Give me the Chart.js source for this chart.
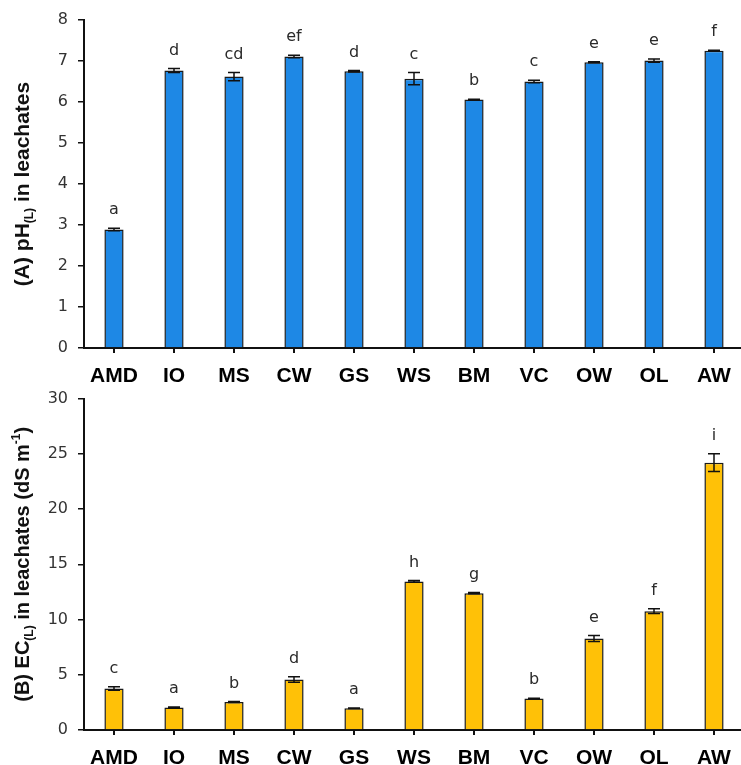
<!DOCTYPE html>
<html>
<head>
<meta charset="utf-8">
<script src="https://cdn.jsdelivr.net/npm/chart.js@4.4.1/dist/chart.umd.min.js"></script>
<style>
  html, body { margin: 0; padding: 0; background: #ffffff; }
  #wrap { position: relative; width: 741px; height: 765px; overflow: hidden; background: #ffffff; }
  canvas { position: absolute; left: 0; }
  #phChart { top: 0; }
  #ecChart { top: 379px; }
</style>
</head>
<body>
<div id="wrap">
  <canvas id="phChart" width="744" height="388"></canvas>
  <canvas id="ecChart" width="744" height="391"></canvas>
</div>
<script>
// Treatments
const categories = ['AMD', 'IO', 'MS', 'CW', 'GS', 'WS', 'BM', 'VC', 'OW', 'OL', 'AW'];

// (A) leachate pH: means, standard errors, significance letters
const phValues  = [2.89, 6.77, 6.62, 7.11, 6.75, 6.57, 6.06, 6.50, 6.97, 7.01, 7.25];
const phErrors  = [0.03, 0.05, 0.10, 0.03, 0.02, 0.15, 0.01, 0.03, 0.01, 0.04, 0.01];
const phLetters = ['a', 'd', 'cd', 'ef', 'd', 'c', 'b', 'c', 'e', 'e', 'f'];

// (B) leachate EC (dS m-1): means, standard errors, significance letters
const ecValues  = [3.75, 2.03, 2.54, 4.57, 1.97, 13.45, 12.39, 2.85, 8.28, 10.76, 24.2];
const ecErrors  = [0.16, 0.05, 0.05, 0.24, 0.03, 0.08, 0.05, 0.03, 0.27, 0.21, 0.80];
const ecLetters = ['c', 'a', 'b', 'd', 'a', 'h', 'g', 'b', 'e', 'f', 'i'];

const TICK_FONT = '"DejaVu Sans", sans-serif';
const LABEL_FONT = '"Liberation Sans", Arial, sans-serif';

// Error bars and letter annotations drawn on top of the bars
const errorBarPlugin = {
  id: 'errorBars',
  afterDatasetsDraw(chart, args, opts) {
    const ctx = chart.ctx;
    const y = chart.scales.y;
    const meta = chart.getDatasetMeta(0);
    const values = chart.data.datasets[0].data;
    ctx.save();
    ctx.strokeStyle = '#111111';
    ctx.lineWidth = 1.5;
    meta.data.forEach((bar, i) => {
      const v = values[i], e = opts.errors[i];
      const yt = y.getPixelForValue(v + e);
      const yb = y.getPixelForValue(v - e);
      const x = bar.x;
      ctx.beginPath();
      ctx.moveTo(x, yt); ctx.lineTo(x, yb);
      ctx.moveTo(x - 6, yt); ctx.lineTo(x + 6, yt);
      ctx.moveTo(x - 6, yb); ctx.lineTo(x + 6, yb);
      ctx.stroke();
      ctx.fillStyle = '#2a2a2a';
      ctx.font = '16px ' + TICK_FONT;
      ctx.textAlign = 'center';
      ctx.textBaseline = 'middle';
      ctx.fillText(opts.letters[i], x, yt - 18);
    });
    ctx.restore();
  }
};

// Rotated y-axis title with sub/superscript parts
const axisTitlePlugin = {
  id: 'axisTitle',
  afterDraw(chart, args, opts) {
    const ctx = chart.ctx;
    const area = chart.chartArea;
    const cy = (area.top + area.bottom) / 2;
    const big = 'bold ' + opts.size + 'px ' + LABEL_FONT;
    const small = 'bold 12px ' + LABEL_FONT;
    ctx.save();
    ctx.translate(opts.x, cy);
    ctx.rotate(-Math.PI / 2);
    ctx.fillStyle = '#111111';
    ctx.textBaseline = 'alphabetic';
    ctx.textAlign = 'left';
    let total = 0;
    opts.parts.forEach(p => {
      ctx.font = p.kind === 'n' ? big : small;
      total += ctx.measureText(p.text).width;
    });
    let x = -total / 2;
    opts.parts.forEach(p => {
      ctx.font = p.kind === 'n' ? big : small;
      const dy = p.kind === 'sub' ? 11 : (p.kind === 'sup' ? -2 : 7);
      ctx.fillText(p.text, x, dy);
      x += ctx.measureText(p.text).width;
    });
    ctx.restore();
  }
};

function makeChart(id, values, errors, letters, color, yMax, step, topPad, titleSize, titleParts) {
  return new Chart(document.getElementById(id), {
    type: 'bar',
    data: {
      labels: categories,
      datasets: [{
        data: values,
        backgroundColor: color,
        borderColor: '#1a1a1a',
        borderWidth: 1.5,
        categoryPercentage: 1.0,
        barPercentage: 0.32
      }]
    },
    options: {
      responsive: false,
      animation: false,
      devicePixelRatio: 1,
      layout: { padding: { top: topPad, left: 0, right: 0, bottom: 0 } },
      plugins: {
        legend: { display: false },
        tooltip: { enabled: false },
        errorBars: { errors: errors, letters: letters },
        axisTitle: { x: 22, size: titleSize, parts: titleParts }
      },
      scales: {
        x: {
          grid: { display: true, offset: false, drawOnChartArea: false, drawTicks: true, tickLength: 5, color: '#111111', lineWidth: 2 },
          border: { display: true, color: '#111111', width: 2 },
          ticks: { color: '#000000', font: { family: LABEL_FONT, size: 21, weight: 'bold' }, padding: 11, maxRotation: 0 },
          afterFit(scale) { scale.height = 40; }
        },
        y: {
          min: 0,
          max: yMax,
          grid: { display: true, drawOnChartArea: false, drawTicks: true, tickLength: 6, color: '#111111', lineWidth: 1.5 },
          border: { display: true, color: '#111111', width: 2 },
          ticks: { stepSize: step, color: '#333333', font: { family: TICK_FONT, size: 16 }, padding: 10 },
          afterFit(scale) { scale.width = 84; }
        }
      }
    },
    plugins: [errorBarPlugin, axisTitlePlugin]
  });
}

makeChart('phChart', phValues, phErrors, phLetters, '#1E88E5', 8, 1, 20, 21, [
  { text: '(A) pH', kind: 'n' },
  { text: '(L)', kind: 'sub' },
  { text: ' in leachates', kind: 'n' }
]);

makeChart('ecChart', ecValues, ecErrors, ecLetters, '#FFC107', 30, 5, 16, 20, [
  { text: '(B) EC', kind: 'n' },
  { text: '(L)', kind: 'sub' },
  { text: ' in leachates (dS m', kind: 'n' },
  { text: '-1', kind: 'sup' },
  { text: ')', kind: 'n' }
]);
</script>
</body>
</html>
